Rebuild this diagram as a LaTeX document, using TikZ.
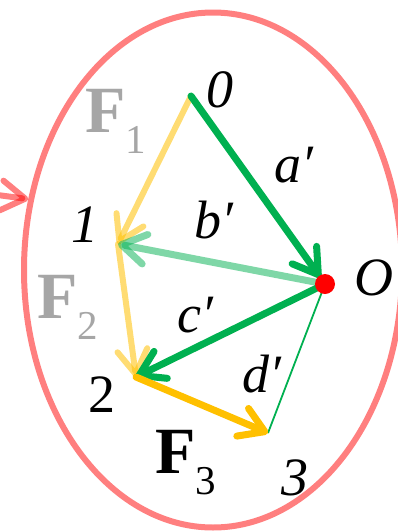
\documentclass[tikz,border=0pt]{standalone}
\usepackage{fontspec}
\setmainfont{Liberation Serif}
\usepackage{tikz}
\usetikzlibrary{arrows.meta, shapes.geometric}
\definecolor{vecgreen}{HTML}{00B050}
\definecolor{vecyellow}{HTML}{FFC000}
\definecolor{forcegray}{HTML}{A6A6A6}
\newcommand{\forcelbl}[1]{{\fontsize{66}{66}\selectfont\bfseries F}{\fontsize{41}{41}\selectfont\raisebox{-21pt}{#1}}}

\begin{document}
\begin{tikzpicture}[x=1pt, y=-1pt,
    vec/.style  = {-{Straight Barb[length=24pt,width=30pt,line cap=round,line join=round]},
                   line width=7pt, line cap=round},
    lbl/.style  = {inner sep=0pt, anchor=base, font=\fontsize{54}{54}\selectfont\itshape},
    flbl/.style = {inner sep=0pt, anchor=base west},
    sys/.style  = {ellipse, draw=red, draw opacity=0.5, line width=6pt,
                   minimum width=378pt, minimum height=515pt, inner sep=0pt},
  ]
    \useasboundingbox (0,0) rectangle (397,531);

    % ── System boundary ──────────────────────────────────────
    \node[sys] (sys) at (213,270) {};
    \coordinate (src) at (-40,190);
    \draw[vec, red, opacity=0.5, line width=6pt] (src) -- (sys.159);

    % ── Points ───────────────────────────────────────────────
    \coordinate (p0) at (191,96);
    \coordinate (p1) at (118,244);
    \coordinate (p2) at (136,377);
    \coordinate (p3) at (268,433);
    \coordinate (O)  at (325,284);

    % ── Force polygon ────────────────────────────────────────
    \draw[vec, vecyellow, opacity=0.55, line width=6pt] (p0) -- (p1);
    \draw[vec, vecyellow, opacity=0.55, line width=6pt] (p1) -- (p2);
    \draw[vec, vecgreen, opacity=0.5] (O) -- (p1);
    \draw[vec, vecgreen, shorten >=8pt] (p0) -- (O);
    \draw[vec, vecgreen] (O) -- (p2);
    \draw[vecgreen, line width=1.8pt] (O) -- (p3);
    \draw[vec, vecyellow] (p2) -- (p3);
    \node[circle, fill=red, minimum size=20pt, inner sep=0pt] (Odot) at (O) {};

    % ── Labels ───────────────────────────────────────────────
    \node[lbl] (l0) at (220,107) {0};
    \node[lbl] (l1) at (85,242) {1};
    \node[lbl, font=\fontsize{54}{54}\selectfont\upshape] (l2) at (102,412) {2};
    \node[lbl] (l3) at (295,495) {3};
    \node[lbl] (lO) at (374,295) {O};
    \node[lbl] (la) at (294,182) {a′};
    \node[lbl] (lb) at (214,238) {b′};
    \node[lbl] (lc) at (195,332) {c′};
    \node[lbl] (ld) at (262,392) {d′};

    \node[flbl, text=forcegray] (f1) at (85,132) {\forcelbl{1}};
    \node[flbl, text=forcegray] (f2) at (37,318) {\forcelbl{2}};
    \node[flbl] (f3) at (155,473) {\forcelbl{3}};

  \end{tikzpicture}
\end{document}
